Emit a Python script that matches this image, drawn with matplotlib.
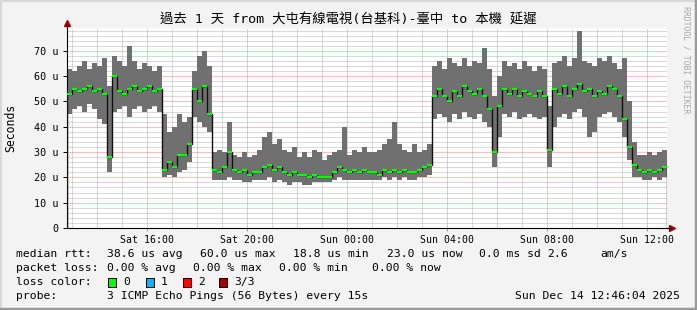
import numpy as np
import matplotlib
matplotlib.use('Agg')
import matplotlib.pyplot as plt
from matplotlib.lines import Line2D

# smokeping style latency chart, 12 minute steps from Sat 12:48
start_hour = 12.8
step_hour = 0.2

median_us = [53, 55, 54, 55, 56, 54, 55, 53, 28, 60,
             54, 53, 55, 56, 54, 55, 56, 54, 55, 23,
             26, 24, 29, 29, 33, 55, 50, 56, 45, 23,
             22, 24, 30, 23, 22, 23, 21, 22, 22, 24,
             25, 23, 24, 22, 21, 22, 21, 21, 20, 21,
             20, 20, 20, 22, 24, 23, 22, 23, 22, 23,
             22, 22, 21, 23, 22, 23, 22, 23, 22, 22,
             23, 24, 25, 52, 55, 52, 50, 54, 52, 56,
             54, 53, 55, 52, 47, 30, 48, 55, 53, 55,
             52, 54, 53, 52, 54, 52, 31, 55, 53, 56,
             52, 55, 57, 54, 55, 52, 54, 53, 56, 55,
             52, 43, 32, 25, 23, 22, 23, 22, 23, 24]

low_us = [45, 47, 48, 46, 49, 47, 43, 41, 22, 46,
          47, 48, 44, 47, 48, 46, 47, 48, 46, 20,
          21, 20, 22, 23, 26, 44, 42, 40, 38, 19,
          19, 19, 20, 19, 19, 18, 18, 19, 19, 19,
          20, 18, 19, 18, 17, 18, 18, 17, 17, 18,
          18, 18, 18, 19, 20, 19, 19, 19, 19, 19,
          19, 19, 19, 20, 19, 20, 19, 20, 19, 19,
          20, 20, 21, 43, 45, 44, 42, 45, 43, 46,
          44, 43, 45, 42, 40, 24, 36, 45, 44, 46,
          43, 44, 45, 44, 43, 44, 24, 40, 44, 45,
          43, 46, 47, 44, 36, 38, 44, 45, 46, 44,
          42, 36, 27, 20, 20, 19, 19, 20, 19, 20]

high_us = [63, 62, 64, 66, 63, 65, 64, 67, 56, 68,
           66, 64, 72, 66, 63, 65, 64, 62, 64, 45,
           38, 40, 45, 42, 44, 62, 68, 70, 64, 30,
           31, 30, 42, 29, 28, 30, 28, 29, 31, 36,
           38, 33, 35, 31, 30, 32, 28, 30, 28, 31,
           30, 27, 29, 30, 31, 40, 29, 31, 30, 32,
           30, 30, 31, 33, 35, 42, 33, 31, 30, 33,
           30, 31, 33, 64, 66, 63, 67, 65, 64, 67,
           64, 66, 65, 71, 63, 52, 60, 66, 64, 65,
           63, 66, 64, 62, 64, 63, 48, 65, 66, 68,
           64, 67, 78, 66, 65, 64, 67, 66, 68, 65,
           63, 67, 50, 34, 29, 29, 30, 29, 30, 31]

tick_hours = [16, 20, 24, 28, 32, 36]
tick_labels = ['Sat 16:00', 'Sat 20:00', 'Sun 00:00', 'Sun 04:00', 'Sun 08:00', 'Sun 12:00']
y_ticks = [0, 10, 20, 30, 40, 50, 60, 70]
y_labels = ['0', '10 u', '20 u', '30 u', '40 u', '50 u', '60 u', '70 u']

loss_names = ['0', '1', '2', '3/3']
loss_colors = ['#00ff00', '#00b8ff', '#ff0000', '#a00000']

mono = ['DejaVu Sans Mono', 'Noto Sans CJK TC']
plt.rcParams['font.family'] = mono

n = len(median_us)
edges = start_hour + step_hour * np.arange(n + 1)
med = np.array(median_us, dtype=float)
lo = np.array(low_us, dtype=float)
hi = np.array(high_us, dtype=float)

W, H = 697, 310
fig = plt.figure(figsize=(W / 100, H / 100), dpi=100, facecolor='#f3f3f3')
ax = fig.add_axes([67 / W, (H - 228) / H, 600 / W, 200 / H])
ax.set_facecolor('white')

# grid
for h in range(13, 37):
    col = '#ff8080' if h % 2 == 0 else '#b4b4b4'
    ax.axvline(h, color=col, lw=0.72, ls=(0, (1, 1)), zorder=0)
for v in range(2, 80, 2):
    col = '#ff8080' if v % 10 == 0 else '#b4b4b4'
    ax.axhline(v, color=col, lw=0.72, ls=(0, (1, 1)), zorder=0)

# smoke
ax.stairs(hi, edges, baseline=lo, fill=True, color='#707070', lw=0, zorder=2)
# median
ax.stairs(med, edges, color='#101010', lw=1.0, zorder=3)
ax.hlines(med, edges[:-1], edges[1:], color='#00ff00', lw=1.6, zorder=4)

ax.set_xlim(12.8, 36.8)
ax.set_ylim(0, 79)
ax.set_xticks(tick_hours)
ax.set_xticklabels(tick_labels, fontsize=7.1)
ax.set_yticks(y_ticks)
ax.set_yticklabels(y_labels, fontsize=7.3)
ax.tick_params(axis='x', length=2, width=0.7, color='#ff8080', pad=3)
ax.tick_params(axis='y', length=3, width=0.7, color='black', pad=3)
for s in ['top', 'right']:
    ax.spines[s].set_visible(False)
for s in ['left', 'bottom']:
    ax.spines[s].set_color('black')
    ax.spines[s].set_linewidth(0.8)

# axis arrows
ax.plot([0], [1.025], marker='^', color='#a00000', ms=4, transform=ax.transAxes, clip_on=False)
ax.plot([1.008], [0], marker='>', color='#a00000', ms=4, transform=ax.transAxes, clip_on=False)
ax.plot([0, 0], [1.0, 1.02], color='black', lw=0.8, transform=ax.transAxes, clip_on=False)
ax.plot([1.0, 1.006], [0, 0], color='black', lw=0.8, transform=ax.transAxes, clip_on=False)


def fx(px):
    return px / W


def fy(py):
    return 1 - py / H


fig.text(fx(348.5), fy(20.5), '過去 1 天 from 大屯有線電視(台基科)-臺中 to 本機 延遲',
         ha='center', va='center', fontsize=9.6)
fig.text(fx(11), fy(128), 'Seconds', rotation=90, ha='center', va='center', fontsize=8.3)
fig.text(fx(686), fy(6), 'RRDTOOL / TOBI OETIKER', rotation=270, ha='center', va='top',
         fontsize=5.9, color='#a8a8a8')

lf = 8.2
rows = [
    (254, [(16, 'median rtt:'), (107, '38.6 us avg'), (200, '60.0 us max'), (293, '18.8 us min'),
           (387, '23.0 us now'), (479, '0.0 ms sd'), (547, '2.6'), (600, 'am/s')]),
    (268, [(16, 'packet loss:'), (107, '0.00 % avg'), (193, '0.00 % max'), (279, '0.00 % min'),
           (372, '0.00 % now')]),
    (282, [(16, 'loss color:')]),
    (296, [(16, 'probe:'), (107, '3 ICMP Echo Pings (56 Bytes) every 15s')]),
]
for yy, items in rows:
    for xx, txt in items:
        fig.text(fx(xx), fy(yy), txt, ha='left', va='center', fontsize=lf)
fig.text(fx(680), fy(296), 'Sun Dec 14 12:46:04 2025', ha='right', va='center', fontsize=lf)

box_x = [108, 146, 183, 219]
for bx, name, col in zip(box_x, loss_names, loss_colors):
    fig.patches.append(plt.Rectangle((fx(bx), fy(286.5)), 8 / W, 9 / H, transform=fig.transFigure,
                                     facecolor=col, edgecolor='black', lw=0.7))
    fig.text(fx(bx + 15), fy(282), name, ha='left', va='center', fontsize=lf)

# 3d frame
fig.add_artist(Line2D([0, 1], [fy(0.5), fy(0.5)], transform=fig.transFigure, color='#d8d8d8', lw=1.5))
fig.add_artist(Line2D([fx(0.5), fx(0.5)], [0, 1], transform=fig.transFigure, color='#d8d8d8', lw=1.5))
fig.add_artist(Line2D([0, 1], [fy(308.5), fy(308.5)], transform=fig.transFigure, color='#9a9a9a', lw=2.5))
fig.add_artist(Line2D([fx(695.5), fx(695.5)], [0, 1], transform=fig.transFigure, color='#9a9a9a', lw=2.5))

fig.savefig('out.png', dpi=100, facecolor=fig.get_facecolor())
